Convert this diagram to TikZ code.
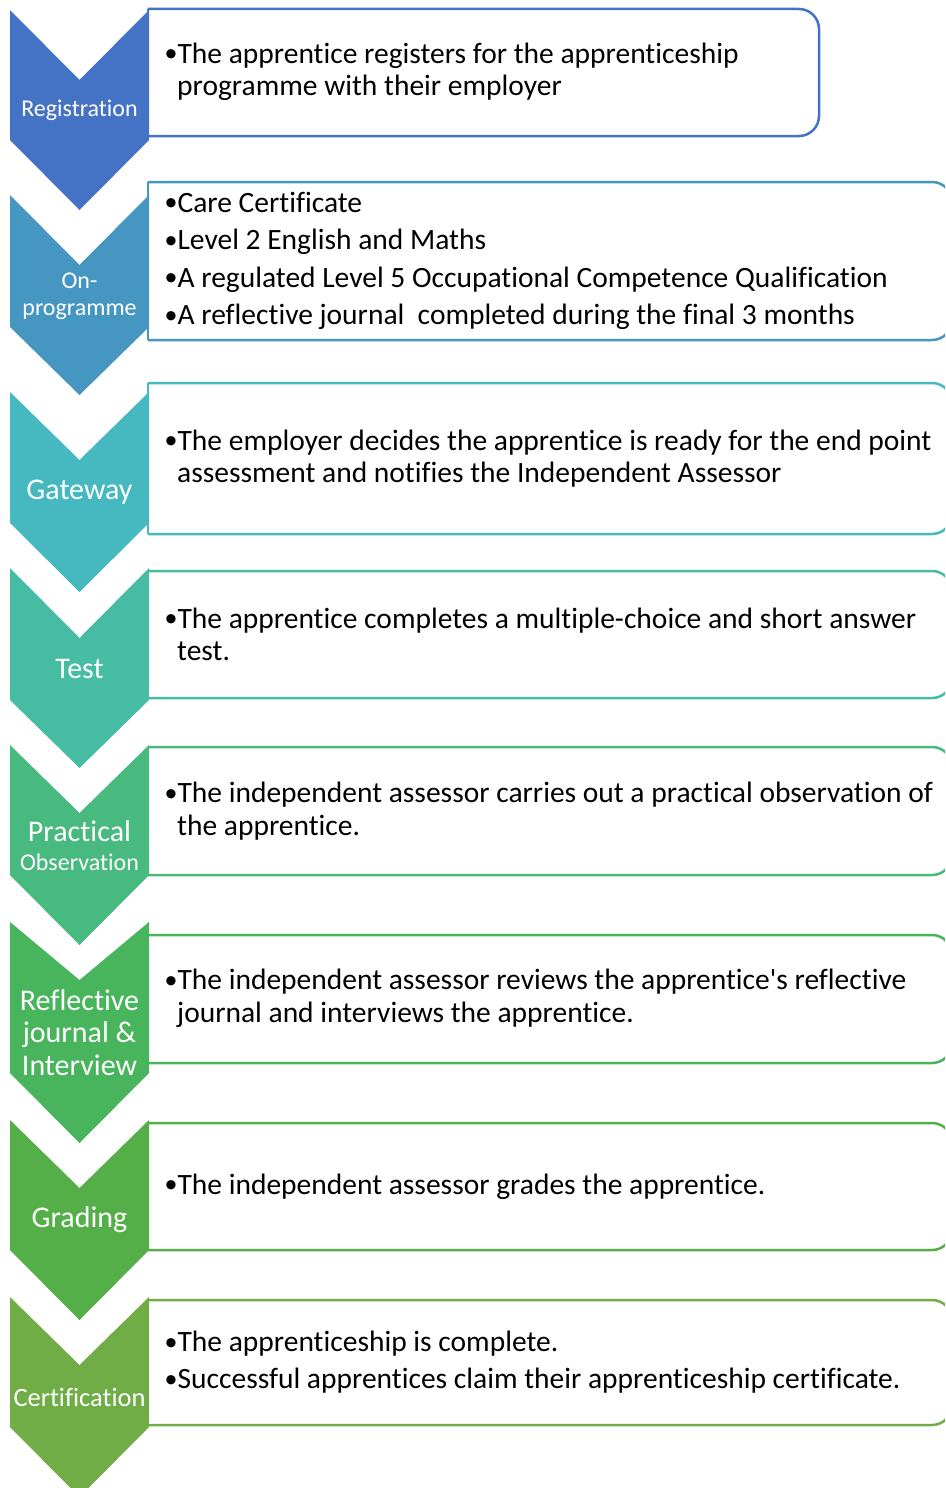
\documentclass[tikz,border=0pt]{standalone}
\usepackage{fontspec}
\setmainfont{Carlito}[Ligatures={NoCommon}]
\newfontfamily\bulletfont{Liberation Sans}
\newcommand\bul{\raisebox{-2.5pt}{\bulletfont\fontsize{34}{32}\selectfont\textbullet}\kern0.5pt}
\definecolor{regc}{HTML}{4472C4}
\definecolor{onc}{HTML}{4596C0}
\definecolor{gatec}{HTML}{46B8BF}
\definecolor{testc}{HTML}{46BDA2}
\definecolor{pracc}{HTML}{48B97F}
\definecolor{reflc}{HTML}{48B45C}
\definecolor{gradc}{HTML}{55AF48}
\definecolor{certc}{HTML}{70AD47}

\begin{document}
\begin{tikzpicture}[x=1pt,y=-1pt]
\tikzstyle{every node}+=[inner sep=0pt]
\tikzstyle{steplabel}=[text=white, align=center]
\tikzstyle{boxtext}=[anchor=west, align=left, text=black, font=\fontsize{29.5}{32.5}\selectfont]
\tikzstyle{boxline}=[line width=2.5pt]
\useasboundingbox (0,0) rectangle (945,1488);
\clip (0,0) rectangle (945,1488);

% Registration
\draw [boxline, regc] (148,9) -- (148,136);
\draw [boxline, regc, rounded corners=20pt] (148,9) -- (819,9) -- (819,136) -- (148,136);
\fill [regc] (10,10) -- (79.5,80) -- (149,10) -- (149,140) -- (79.5,210) -- (10,140) -- cycle;
\node [steplabel, font=\fontsize{24}{27}\selectfont] (registration) at (79.5,110) {Registration};
\node [boxtext] (registrationtext) at (165,72)
  {\bul The apprentice registers for the apprenticeship\\\hspace*{12pt}programme with their employer};

% On-programme
\draw [boxline, onc] (148,182) -- (148,340);
\draw [boxline, onc, rounded corners=20pt] (148,182) -- (952,182) -- (952,340) -- (148,340);
\fill [onc] (10,195) -- (79.5,265) -- (149,195) -- (149,327) -- (79.5,395) -- (10,327) -- cycle;
\node [steplabel, font=\fontsize{24}{27}\selectfont] (onprogramme) at (79.5,296.5) {On-\\programme};
\node [boxtext, font=\fontsize{29.5}{37.5}\selectfont] (onprogrammetext) at (165,261)
  {\bul Care Certificate\\
   \bul Level 2 English and Maths\\
   \bul A regulated Level 5 Occupational Competence Qualification\\
   \bul A reflective journal\ \ completed during the final 3 months};

% Gateway
\draw [boxline, gatec] (148,383) -- (148,534);
\draw [boxline, gatec, rounded corners=20pt] (148,383) -- (952,383) -- (952,534) -- (148,534);
\fill [gatec] (10,392) -- (79.5,460) -- (149,392) -- (149,523) -- (79.5,592) -- (10,523) -- cycle;
\node [steplabel, font=\fontsize{30}{33}\selectfont] (gateway) at (79.5,492) {Gateway};
\node [boxtext] (gatewaytext) at (165,458.5)
  {\bul The employer decides the apprentice is ready for the end point\\\hspace*{12pt}assessment and notifies the Independent Assessor};

% Test
\draw [boxline, testc] (148,571) -- (148,698);
\draw [boxline, testc, rounded corners=20pt] (148,571) -- (952,571) -- (952,698) -- (148,698);
\fill [testc] (10,568) -- (79.5,638) -- (149,568) -- (149,700) -- (79.5,768) -- (10,700) -- cycle;
\node [steplabel, font=\fontsize{30}{33}\selectfont] (test) at (79.5,669) {Test};
\node [boxtext] (testtext) at (165,634.5)
  {\bul The apprentice completes a multiple-choice and short answer\\\hspace*{12pt}test.};

% Practical observation
\draw [boxline, pracc] (148,747) -- (148,875);
\draw [boxline, pracc, rounded corners=20pt] (148,747) -- (952,747) -- (952,875) -- (148,875);
\fill [pracc] (10,745) -- (79.5,813) -- (149,745) -- (149,875) -- (79.5,945) -- (10,875) -- cycle;
\node [steplabel, font=\fontsize{30}{29}\selectfont] (practical) at (79.5,846)
  {Practical\\{\fontsize{24}{29}\selectfont Observation}};
\node [boxtext] (practicaltext) at (165,811)
  {\bul The independent assessor carries out a practical observation of\\\hspace*{12pt}the apprentice.};

% Reflective journal and interview
\draw [boxline, reflc] (148,935) -- (148,1063);
\draw [boxline, reflc, rounded corners=20pt] (148,935) -- (952,935) -- (952,1063) -- (148,1063);
\fill [reflc] (10,922) -- (79.5,980) -- (149,922) -- (149,1073) -- (79.5,1143) -- (10,1073) -- cycle;
\node [steplabel, font=\fontsize{30}{32.5}\selectfont] (reflective) at (79.5,1032.5)
  {Reflective\\journal \&\\Interview};
\node [boxtext, font=\fontsize{29.5}{33}\selectfont] (reflectivetext) at (165,998.5)
  {\bul The independent assessor reviews the apprentice\textquotesingle s reflective\\\hspace*{12pt}journal and interviews the apprentice.};

% Grading
\draw [boxline, gradc] (148,1123) -- (148,1250);
\draw [boxline, gradc, rounded corners=20pt] (148,1123) -- (952,1123) -- (952,1250) -- (148,1250);
\fill [gradc] (10,1120) -- (79.5,1188) -- (149,1120) -- (149,1250) -- (79.5,1320) -- (10,1250) -- cycle;
\node [steplabel, font=\fontsize{30}{33}\selectfont] (grading) at (79.5,1220) {Grading};
\node [boxtext] (gradingtext) at (165,1186.5)
  {\bul The independent assessor grades the apprentice.};

% Certification
\draw [boxline, certc] (148,1300) -- (148,1425);
\draw [boxline, certc, rounded corners=20pt] (148,1300) -- (952,1300) -- (952,1425) -- (148,1425);
\fill [certc] (10,1297) -- (79.5,1365) -- (149,1297) -- (149,1427) -- (79.5,1497) -- (10,1427) -- cycle;
\node [steplabel, font=\fontsize{26.5}{30}\selectfont] (certification) at (79.5,1397) {Certification};
\node [boxtext, font=\fontsize{29.5}{37}\selectfont] (certificationtext) at (165,1362.5)
  {\bul The apprenticeship is complete.\\
   \bul Successful apprentices claim their apprenticeship certificate.};
\end{tikzpicture}
\end{document}
